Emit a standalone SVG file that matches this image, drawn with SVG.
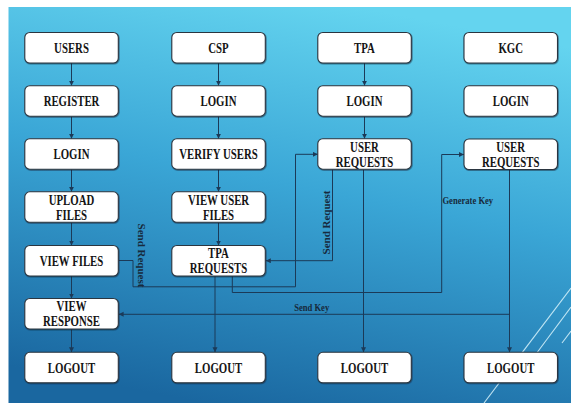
<svg xmlns="http://www.w3.org/2000/svg" width="571" height="403" viewBox="0 0 571 403">
  <defs>
    <linearGradient id="bg" x1="0.62" y1="0" x2="0.35" y2="1">
      <stop offset="0" stop-color="#64d4ef"/>
      <stop offset="0.45" stop-color="#3aa6d6"/>
      <stop offset="1" stop-color="#1a67a0"/>
    </linearGradient>
    <marker id="arr" markerUnits="userSpaceOnUse" markerWidth="6" markerHeight="6" refX="5" refY="2.5" orient="auto">
      <path d="M0,0 L5,2.5 L0,5 z" fill="#1b3a58"/>
    </marker>
    <filter id="sh" x="-10%" y="-20%" width="120%" height="150%">
      <feDropShadow dx="0.6" dy="0.8" stdDeviation="0.6" flood-color="#0b2236" flood-opacity="0.6"/>
    </filter>
  </defs>
  <style>
    .box { fill: #ffffff; stroke: #2b3640; stroke-width: 1.1; filter: url(#sh); }
    .t { font-family: "Liberation Serif", "Times New Roman", serif; font-weight: bold; font-size: 15px; fill: #141414; text-anchor: middle; }
    .lbl { font-family: "Liberation Serif", "Times New Roman", serif; font-weight: bold; font-size: 11px; fill: #172a3c; text-anchor: middle; }
    .ln { fill: none; stroke: #1b3a58; stroke-width: 1; }
    .deco { stroke: #d8f3fb; stroke-width: 1.1; opacity: 0.85; fill: none; }
  </style>

  <!-- backdrop -->
  <rect x="0" y="0" width="571" height="403" fill="#ffffff"/>
  <rect x="8.5" y="7" width="562.5" height="396" fill="url(#bg)"/>

  <!-- corner accent strokes -->
  <g id="accent">
    <line class="deco" x1="484" y1="403" x2="571" y2="288"/>
    <line class="deco" x1="536" y1="354" x2="571" y2="307"/>
    <line class="deco" x1="562" y1="343" x2="571" y2="331"/>
  </g>

  <!-- connectors -->
  <g id="connectors">
    <!-- USERS column -->
    <path class="ln" d="M71.5,63 V85.7" marker-end="url(#arr)"/>
    <path class="ln" d="M71.5,116.2 V138.7" marker-end="url(#arr)"/>
    <path class="ln" d="M71.5,169.2 V191.8" marker-end="url(#arr)"/>
    <path class="ln" d="M71.5,222.3 V245.5" marker-end="url(#arr)"/>
    <path class="ln" d="M71.5,276 V298.5" marker-end="url(#arr)"/>
    <path class="ln" d="M71.5,329 V352.3" marker-end="url(#arr)"/>
    <!-- CSP column -->
    <path class="ln" d="M218.5,63 V85.7" marker-end="url(#arr)"/>
    <path class="ln" d="M218.5,116.2 V138.7" marker-end="url(#arr)"/>
    <path class="ln" d="M218.5,169.2 V191.8" marker-end="url(#arr)"/>
    <path class="ln" d="M218.5,222.3 V245.5" marker-end="url(#arr)"/>
    <path class="ln" d="M215,276 V352.3" marker-end="url(#arr)"/>
    <!-- TPA column -->
    <path class="ln" d="M364.5,63 V85.7" marker-end="url(#arr)"/>
    <path class="ln" d="M364.5,116.2 V138.7" marker-end="url(#arr)"/>
    <path class="ln" d="M363.5,169.2 V352.3" marker-end="url(#arr)"/>
    <!-- KGC column -->
    <path class="ln" d="M509.5,169.5 V352.3" marker-end="url(#arr)"/>
    <!-- cross links -->
    <path class="ln" d="M118.6,260.5 H133 V286.8 H295.5 V154.3 H317.8" marker-end="url(#arr)"/>
    <path class="ln" d="M332.5,169.2 V260.7 H265.8" marker-end="url(#arr)"/>
    <path class="ln" d="M232.3,276 V292.5 H441.7 V154.5 H464" marker-end="url(#arr)"/>
    <path class="ln" d="M509.5,314.3 H118.6" marker-end="url(#arr)"/>
    <!-- link labels -->
    <text class="lbl" transform="translate(137.8,255.5) rotate(90)">Send Request</text>
    <text class="lbl" transform="translate(330.2,222.5) rotate(-90)">Send Request</text>
    <text class="lbl" transform="translate(467.8,204) scale(0.78,1)">Generate Key</text>
    <text class="lbl" transform="translate(311.7,310.6) scale(0.78,1)">Send Key</text>
  </g>

  <!-- USERS column -->
  <g id="users"><rect class="box" x="24.8" y="32.5" width="93.5" height="30.5" rx="5"/><text class="t" transform="translate(71.5,53.2) scale(0.72,1)">USERS</text></g>
  <g id="register"><rect class="box" x="24.8" y="85.7" width="93.5" height="30.5" rx="5"/><text class="t" transform="translate(71.5,106.3) scale(0.72,1)">REGISTER</text></g>
  <g id="user-login"><rect class="box" x="24.8" y="138.7" width="93.5" height="30.5" rx="5"/><text class="t" transform="translate(71.5,159.3) scale(0.72,1)">LOGIN</text></g>
  <g id="upload-files"><rect class="box" x="24.8" y="191.8" width="93.5" height="30.5" rx="5"/><text class="t" transform="translate(71.5,204.8) scale(0.72,1)">UPLOAD</text><text class="t" transform="translate(71.5,219.8) scale(0.72,1)">FILES</text></g>
  <g id="view-files"><rect class="box" x="24.8" y="245.5" width="93.5" height="30.5" rx="5"/><text class="t" transform="translate(71.5,266.1) scale(0.72,1)">VIEW FILES</text></g>
  <g id="view-response"><rect class="box" x="24.8" y="298.5" width="93.5" height="30.5" rx="5"/><text class="t" transform="translate(71.5,310.6) scale(0.72,1)">VIEW</text><text class="t" transform="translate(71.5,326.3) scale(0.72,1)">RESPONSE</text></g>
  <g id="user-logout"><rect class="box" x="24.8" y="352.3" width="93.5" height="30.5" rx="5"/><text class="t" transform="translate(71.5,372.9) scale(0.72,1)">LOGOUT</text></g>

  <!-- CSP column -->
  <g id="csp"><rect class="box" x="171.8" y="32.5" width="93.5" height="30.5" rx="5"/><text class="t" transform="translate(218.5,53.2) scale(0.72,1)">CSP</text></g>
  <g id="csp-login"><rect class="box" x="171.8" y="85.7" width="93.5" height="30.5" rx="5"/><text class="t" transform="translate(218.5,106.3) scale(0.72,1)">LOGIN</text></g>
  <g id="verify-users"><rect class="box" x="171.8" y="138.7" width="93.5" height="30.5" rx="5"/><text class="t" transform="translate(218.5,159.3) scale(0.72,1)">VERIFY USERS</text></g>
  <g id="view-user-files"><rect class="box" x="171.8" y="191.8" width="93.5" height="30.5" rx="5"/><text class="t" transform="translate(218.5,204.6) scale(0.72,1)">VIEW USER</text><text class="t" transform="translate(218.5,219.6) scale(0.72,1)">FILES</text></g>
  <g id="tpa-requests"><rect class="box" x="171.8" y="245.5" width="93.5" height="30.5" rx="5"/><text class="t" transform="translate(218.5,257.6) scale(0.72,1)">TPA</text><text class="t" transform="translate(218.5,273.2) scale(0.72,1)">REQUESTS</text></g>
  <g id="csp-logout"><rect class="box" x="171.8" y="352.3" width="93.5" height="30.5" rx="5"/><text class="t" transform="translate(218.5,372.9) scale(0.72,1)">LOGOUT</text></g>

  <!-- TPA column -->
  <g id="tpa"><rect class="box" x="317.8" y="32.5" width="93.5" height="30.5" rx="5"/><text class="t" transform="translate(364.5,53.2) scale(0.72,1)">TPA</text></g>
  <g id="tpa-login"><rect class="box" x="317.8" y="85.7" width="93.5" height="30.5" rx="5"/><text class="t" transform="translate(364.5,106.3) scale(0.72,1)">LOGIN</text></g>
  <g id="tpa-user-requests"><rect class="box" x="317.8" y="138.7" width="93.5" height="30.5" rx="5"/><text class="t" transform="translate(364.5,151.6) scale(0.72,1)">USER</text><text class="t" transform="translate(364.5,166.6) scale(0.72,1)">REQUESTS</text></g>
  <g id="tpa-logout"><rect class="box" x="317.8" y="352.3" width="93.5" height="30.5" rx="5"/><text class="t" transform="translate(364.5,372.9) scale(0.72,1)">LOGOUT</text></g>

  <!-- KGC column -->
  <g id="kgc"><rect class="box" x="464" y="32.5" width="93.5" height="30.5" rx="5"/><text class="t" transform="translate(510.7,53.2) scale(0.72,1)">KGC</text></g>
  <g id="kgc-login"><rect class="box" x="464" y="85.7" width="93.5" height="30.5" rx="5"/><text class="t" transform="translate(510.7,106.3) scale(0.72,1)">LOGIN</text></g>
  <g id="kgc-user-requests"><rect class="box" x="464" y="139" width="93.5" height="30.5" rx="5"/><text class="t" transform="translate(510.7,152.2) scale(0.72,1)">USER</text><text class="t" transform="translate(510.7,167.2) scale(0.72,1)">REQUESTS</text></g>
  <g id="kgc-logout"><rect class="box" x="464" y="352.3" width="93.5" height="30.5" rx="5"/><text class="t" transform="translate(510.7,372.9) scale(0.72,1)">LOGOUT</text></g>
</svg>
